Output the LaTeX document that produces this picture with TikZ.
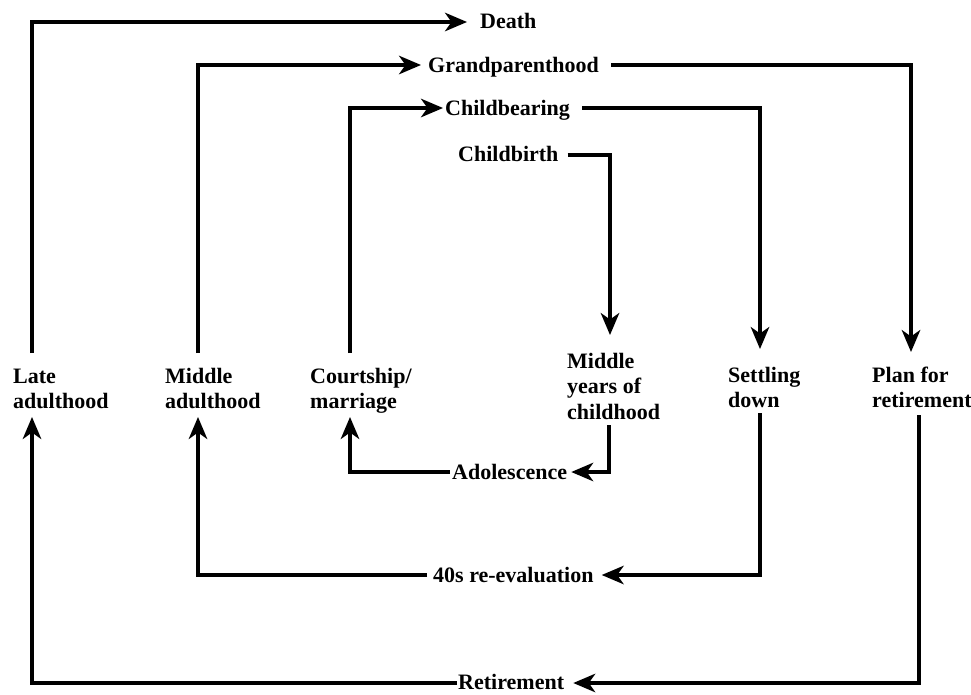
\documentclass[tikz,border=0pt]{standalone}
\usepackage{fontspec}
\setmainfont{Liberation Serif}
\usetikzlibrary{arrows.meta}
\tikzset{
  lbl/.style={inner sep=0pt, anchor=base west, font=\fontsize{22}{25.5}\selectfont\bfseries},
  ln/.style={line width=3.3pt, line join=miter},
  arr/.style={ln, -{Stealth[length=22pt,width=18.5pt,inset=6.5pt]}}
}
\newcommand{\ml}[1]{\begin{tabular}[t]{@{}l@{}}#1\end{tabular}}
\begin{document}
\begin{tikzpicture}[x=1pt,y=-1pt]
\useasboundingbox (0,0) rectangle (971,694);
% labels
\node[lbl] (death)  at (480,28)  {Death};
\node[lbl] (grand)  at (428,72)  {Grandparenthood};
\node[lbl] (cbear)  at (445,115) {Childbearing};
\node[lbl] (cbirth) at (458,161) {Childbirth};
\node[lbl] (late)   at (13,383)  {\ml{Late\\adulthood}};
\node[lbl] (midad)  at (165,383) {\ml{Middle\\adulthood}};
\node[lbl] (court)  at (310,383) {\ml{Courtship/\\marriage}};
\node[lbl] (myears) at (567,368) {\ml{Middle\\years of\\childhood}};
\node[lbl] (settle) at (728,382) {\ml{Settling\\down}};
\node[lbl] (plan)   at (872,382) {\ml{Plan for\\retirement}};
\node[lbl] (adol)   at (452,479) {Adolescence};
\node[lbl] (forty)  at (433,582) {40s re-evaluation};
\node[lbl] (retire) at (458,689) {Retirement};
% connectors
\draw[arr] ([shift={(19pt,30pt)}]late.base west) |- ([shift={(-13pt,6pt)}]death.base west);
\draw[arr] ([shift={(33pt,30pt)}]midad.base west) |- ([shift={(-7pt,7pt)}]grand.base west);
\draw[arr] ([shift={(40pt,30pt)}]court.base west) |- ([shift={(-2pt,7pt)}]cbear.base west);
\draw[arr] ([shift={(12pt,7pt)}]grand.base east) -| ([shift={(39pt,30pt)}]plan.base west);
\draw[arr] ([shift={(12pt,7pt)}]cbear.base east) -| ([shift={(32pt,33pt)}]settle.base west);
\draw[arr] ([shift={(9pt,6pt)}]cbirth.base east) -| ([shift={(43pt,33pt)}]myears.base west);
\draw[arr] ([shift={(42pt,-57pt)}]myears.base west) |- ([shift={(4pt,7pt)}]adol.base east);
\draw[arr] ([shift={(-2pt,7pt)}]adol.base west) -| ([shift={(40pt,-34pt)}]court.base west);
\draw[arr] ([shift={(32pt,-31pt)}]settle.base west) |- ([shift={(8pt,7pt)}]forty.base east);
\draw[arr] ([shift={(-6pt,7pt)}]forty.base west) -| ([shift={(33pt,-34pt)}]midad.base west);
\draw[arr] ([shift={(47pt,-33pt)}]plan.base west) |- ([shift={(9pt,6pt)}]retire.base east);
\draw[arr] ([shift={(-1pt,6pt)}]retire.base west) -| ([shift={(19pt,-34pt)}]late.base west);
\end{tikzpicture}
\end{document}
